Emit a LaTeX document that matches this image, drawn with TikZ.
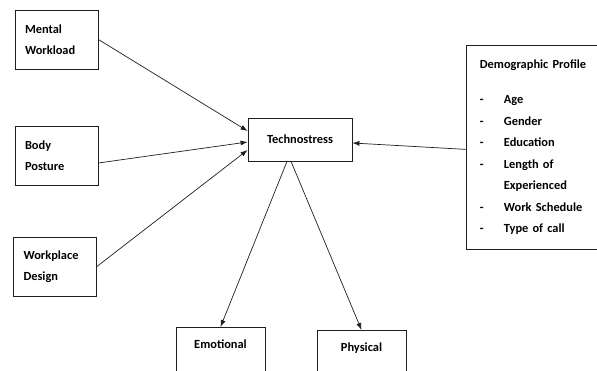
\documentclass[tikz,border=0pt]{standalone}
\usepackage{fontspec}
\setmainfont{Carlito}
\usepackage{tikz}
\usetikzlibrary{arrows.meta,positioning,calc}
\definecolor{LineBlack}{RGB}{30,30,30}
\newcommand{\demoitem}[1]{\makebox[24pt][l]{-}#1}

\begin{document}
\begin{tikzpicture}[x=1pt,y=1pt,
  factor/.style={draw=LineBlack,line width=0.8pt,font=\fontsize{12.4}{21.5}\selectfont\bfseries,
    text width=63pt,align=left,inner xsep=10pt,minimum height=59pt},
  outcome/.style={draw=LineBlack,line width=0.8pt,font=\fontsize{12.4}{21.5}\selectfont\bfseries,
    minimum width=89pt,anchor=north,inner ysep=12pt,text height=9pt,text depth=30pt},
  link/.style={draw=LineBlack,line width=0.7pt,-{Latex[length=7pt,width=5pt]}}]
  \useasboundingbox (0,0) rectangle (597,371);
  % factors on the left
  \node[factor] (mental) at (56.5,331.5) {Mental\\Workload};
  \node[factor] (posture) at (56.5,215.5) {Body\\Posture};
  \node[factor] (workplace) at (55,104.5) {Workplace\\Design};
  % centre
  \node[draw=LineBlack,line width=0.8pt,font=\fontsize{12.4}{21.5}\selectfont\bfseries,
    minimum width=104pt,minimum height=43pt] (techno) at (300,231.5) {Technostress};
  % outcomes
  \node[outcome] (emotional) at (220.5,44) {Emotional};
  \node[outcome] (physical) at (361.5,41) {Physical};
  % demographic profile
  \node[draw=LineBlack,line width=0.8pt,font=\fontsize{12.4}{21.5}\selectfont\bfseries,
    anchor=north west,text width=104pt,align=left,inner xsep=13.5pt,minimum height=204pt]
    (demographic) at (466,326) {\mbox{Demographic Profile}\\[13.5pt]
    \demoitem{Age}\\
    \demoitem{Gender}\\
    \demoitem{Education}\\
    \demoitem{Length of}\\
    \hspace*{24pt}Experienced\\
    \demoitem{Work Schedule}\\
    \demoitem{Type of call}};
  % connectors
  \draw[link] (mental.east) -- ($(techno.west)+(0,8.5)$);
  \draw[link] ($(posture.east)+(0,-7.5)$) -- ($(techno.west)+(0,-2.5)$);
  \draw[link] (workplace.east) -- ($(techno.west)+(0,-10.5)$);
  \draw[link] ($(techno.south)+(-13,0)$) -- (emotional.north);
  \draw[link] ($(techno.south)+(-9,0)$) -- (physical.north);
  \draw[link] ($(demographic.west)+(0,-2)$) -- ($(techno.east)+(0,-3.5)$);
\end{tikzpicture}
\end{document}
